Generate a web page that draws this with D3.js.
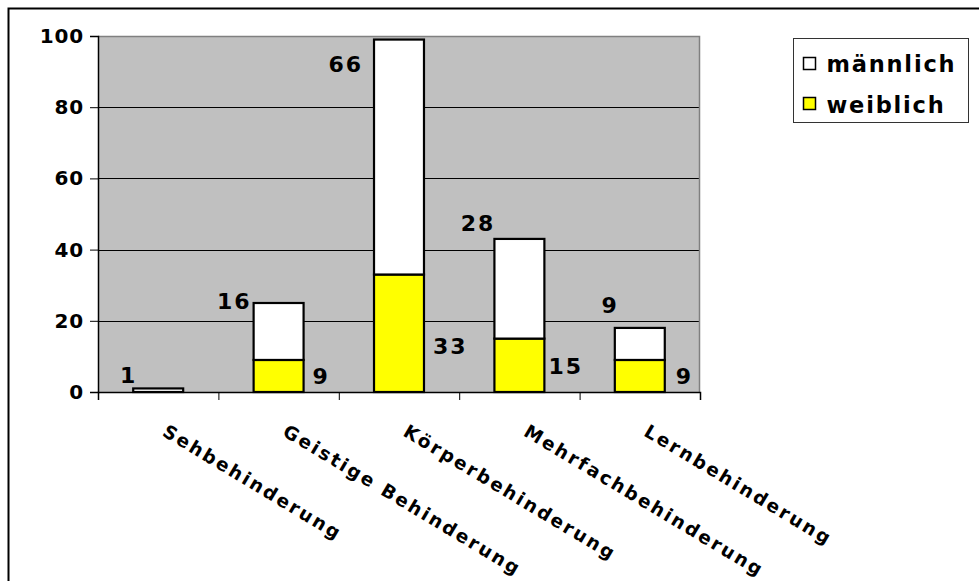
<!DOCTYPE html>
<html>
<head>
<meta charset="utf-8">
<script src="https://cdn.jsdelivr.net/npm/d3@7"></script>
<style>
    body { margin: 0; background: #fff; }
    text { font-family: "DejaVu Sans", Verdana, sans-serif; font-weight: bold; fill: #000; }
</style>
</head>
<body>
<div id="chart"></div>
<script>
// chart data
var categories = ["Sehbehinderung", "Geistige Behinderung", "Körperbehinderung", "Mehrfachbehinderung", "Lernbehinderung"];
var maennlich = [1, 16, 66, 28, 9];
var weiblich = [0, 9, 33, 15, 9];
var yTicks = [0, 20, 40, 60, 80, 100];
var seriesNames = ["männlich", "weiblich"];

// label nudges in pixels (the original labels are not placed evenly)
var mNudge = [[4, -13], [-2, -2], [-11, 25], [1, -16], [4, -23]];
var wNudge = [[9, 0], [9, 0], [9, 13], [4, 1], [11, 0]];

var svgWidth = 979;
var svgHeight = 581;
var margin = { top: 36, left: 98 };
var width = 602;
var height = 356;

var svg = d3.select("#chart")
    .append("svg")
    .attr("width", svgWidth)
    .attr("height", svgHeight);

// outer frame
svg.append("rect")
    .attr("x", 8.5).attr("y", 8.5)
    .attr("width", svgWidth + 20).attr("height", svgHeight + 20)
    .attr("fill", "none")
    .attr("stroke", "#000")
    .attr("stroke-width", 2);

var chartGroup = svg.append("g")
    .attr("transform", `translate(${margin.left}, ${margin.top})`);

var xScale = d3.scaleBand()
    .domain(categories)
    .range([0, width])
    .paddingInner(0.585)
    .paddingOuter(0.2925);

var yScale = d3.scaleLinear()
    .domain([0, 100])
    .range([height, 0]);

// plot background
chartGroup.append("rect")
    .attr("x", 0).attr("y", 0)
    .attr("width", width).attr("height", height)
    .attr("fill", "#c0c0c0");

// gridlines
chartGroup.selectAll(".grid")
    .data(yTicks.filter(d => d > 0 && d < 100))
    .enter()
    .append("line")
    .attr("x1", 0).attr("x2", width)
    .attr("y1", d => Math.round(yScale(d)) + 0.5)
    .attr("y2", d => Math.round(yScale(d)) + 0.5)
    .attr("stroke", "#000")
    .attr("stroke-width", 1);

// gray border top and right
chartGroup.append("path")
    .attr("d", `M0,0.5H${width - 0.5}V${height}`)
    .attr("fill", "none")
    .attr("stroke", "#808080")
    .attr("stroke-width", 1.5);

// stacked data
var stacked = categories.map(function (c, i) {
    return { cat: c, m: maennlich[i], w: weiblich[i], i: i };
});

var bw = xScale.bandwidth();

// weiblich (bottom)
chartGroup.selectAll(".barW")
    .data(stacked.filter(d => d.w > 0))
    .enter()
    .append("rect")
    .attr("x", d => xScale(d.cat))
    .attr("y", d => yScale(d.w))
    .attr("width", bw)
    .attr("height", d => yScale(0) - yScale(d.w))
    .attr("fill", "#ffff00")
    .attr("stroke", "#000")
    .attr("stroke-width", 2.2);

// männlich (top)
chartGroup.selectAll(".barM")
    .data(stacked)
    .enter()
    .append("rect")
    .attr("x", d => xScale(d.cat))
    .attr("y", d => yScale(d.w + d.m))
    .attr("width", bw)
    .attr("height", d => yScale(d.w) - yScale(d.w + d.m))
    .attr("fill", "#ffffff")
    .attr("stroke", "#000")
    .attr("stroke-width", 2.2);

// axes
var yAxis = d3.axisLeft(yScale).tickValues(yTicks).tickSize(8).tickPadding(6);
var yG = chartGroup.append("g").call(yAxis);
yG.select(".domain").attr("stroke", "#000").attr("stroke-width", 1.5);
yG.selectAll("text")
    .style("font-size", "20px")
    .style("letter-spacing", "0.8px")
    .attr("font-family", null);

var xAxis = d3.axisBottom(d3.scaleLinear().domain([0, 5]).range([0, width]))
    .tickValues([0, 1, 2, 3, 4, 5]).tickSize(8).tickFormat("");
var xG = chartGroup.append("g")
    .attr("transform", `translate(0,${height})`)
    .call(xAxis);
xG.select(".domain").attr("stroke", "#000").attr("stroke-width", 1.5);

// category labels (rotated)
chartGroup.selectAll(".catLabel")
    .data(categories)
    .enter()
    .append("text")
    .attr("transform", d => `translate(${xScale(d) + bw / 2 + 3},${height + 43}) rotate(31)`)
    .style("font-size", "18.5px")
    .style("letter-spacing", "2.4px")
    .text(d => d);

// männlich value labels
chartGroup.selectAll(".labelM")
    .data(stacked)
    .enter()
    .append("text")
    .attr("x", d => xScale(d.cat) + mNudge[d.i][0])
    .attr("y", d => yScale(d.w + d.m) + mNudge[d.i][1])
    .attr("dy", "0.36em")
    .attr("text-anchor", "end")
    .style("font-size", "22px")
    .style("letter-spacing", "2px")
    .text(d => d.m);

// weiblich value labels
chartGroup.selectAll(".labelW")
    .data(stacked.filter(d => d.w > 0))
    .enter()
    .append("text")
    .attr("x", d => xScale(d.cat) + bw + wNudge[d.i][0])
    .attr("y", d => yScale(d.w / 2) + wNudge[d.i][1])
    .attr("dy", "0.36em")
    .style("font-size", "22px")
    .style("letter-spacing", "2px")
    .text(d => d.w);

// legend
var legend = svg.append("g").attr("transform", "translate(793.5,38.5)");
legend.append("rect")
    .attr("width", 175).attr("height", 84)
    .attr("fill", "#fff")
    .attr("stroke", "#333")
    .attr("stroke-width", 1);

var legendColors = ["#ffffff", "#ffff00"];
seriesNames.forEach(function (name, i) {
    legend.append("rect")
        .attr("x", 10).attr("y", 19 + i * 40)
        .attr("width", 12).attr("height", 12)
        .attr("fill", legendColors[i])
        .attr("stroke", "#000")
        .attr("stroke-width", 1.5);
    legend.append("text")
        .attr("x", 33).attr("y", 33 + i * 41)
        .style("font-size", "22.5px")
        .style("letter-spacing", "1.8px")
        .text(name);
});
</script>
</body>
</html>
